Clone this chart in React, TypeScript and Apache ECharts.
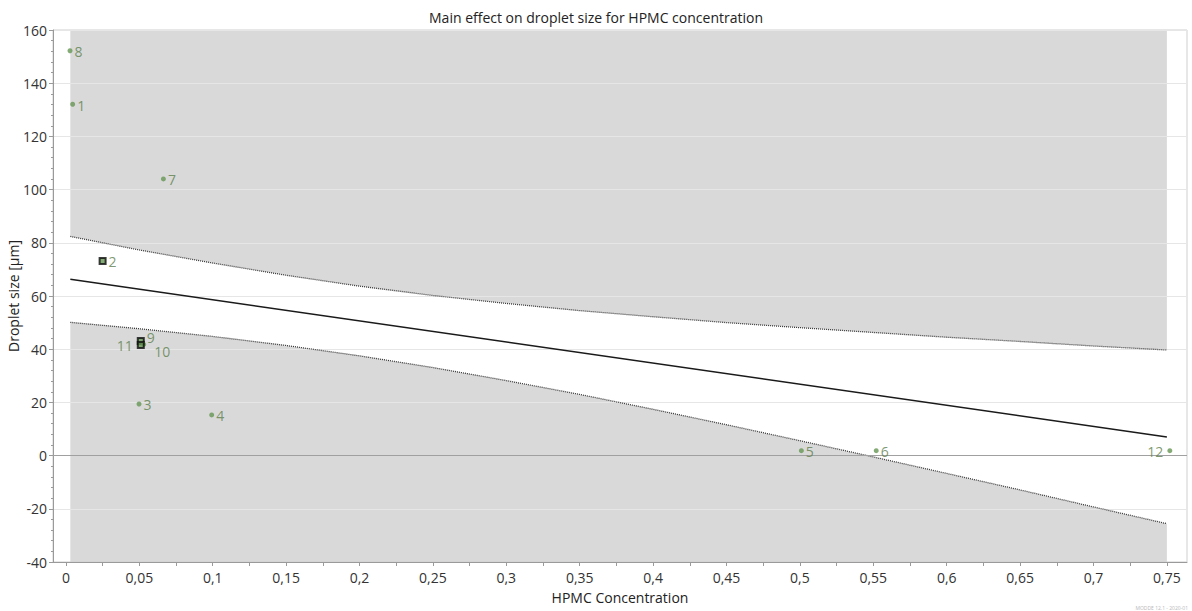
import React, { useEffect, useRef } from "react";
import * as echarts from "echarts";

// Observed runs: HPMC concentration vs. droplet size
const runLabels = ["1", "2", "3", "4", "5", "6", "7", "8", "9", "10", "11", "12"];
const hpmc = [0.0046, 0.025, 0.0498, 0.0993, 0.501, 0.552, 0.0664, 0.0028, 0.051, 0.053, 0.051, 0.752];
const dropletSize = [132.1, 73.2, 19.4, 15.3, 1.85, 1.85, 104, 152.2, 43.1, 41.8, 41.6, 1.85];
// Runs drawn with a square marker, and runs labelled on the left
const squareRuns = ["2", "9", "11"];
const leftLabelRuns = ["11", "12"];

// Fitted main effect line
const fitX = [0.003, 0.75];
const fitY = [66.3, 7.0];

// Confidence band around the fitted line
const bandX = [0.003, 0.05, 0.1, 0.15, 0.2, 0.25, 0.3, 0.35, 0.4, 0.45, 0.5, 0.55, 0.6, 0.65, 0.7, 0.75];
const upperLimit = [82.4, 77.3, 72.4, 67.8, 63.7, 60.2, 57.2, 54.5, 52.2, 50.0, 48.1, 46.3, 44.5, 42.9, 41.2, 39.7];
const lowerLimit = [50.1, 47.7, 44.8, 41.4, 37.5, 33.1, 28.2, 23.0, 17.4, 11.6, 5.6, -0.5, -6.7, -12.9, -19.3, -25.6];

// Axis ticks
const xLabelValues = [0, 0.05, 0.1, 0.15, 0.2, 0.25, 0.3, 0.35, 0.4, 0.45, 0.5, 0.55, 0.6, 0.65, 0.7, 0.75];
const xTickValues = [
  0, 0.025, 0.05, 0.075, 0.1, 0.125, 0.15, 0.175, 0.2, 0.225, 0.25, 0.275, 0.3, 0.325, 0.35, 0.375,
  0.4, 0.425, 0.45, 0.475, 0.5, 0.525, 0.55, 0.575, 0.6, 0.625, 0.65, 0.675, 0.7, 0.725, 0.75,
];

const FONT = "'Segoe UI', 'Open Sans', 'Noto Sans', sans-serif";
const POINT_GREEN = "#659653";
const LABEL_GREEN = "#5d7f4c";
const BAND_GREY = "#d9d9d9";

const zip = (xs: number[], ys: number[]) => xs.map((x, i) => [x, ys[i]]);

// Per-run label nudges so the clustered runs stay readable
const labelOffset = (name: string) => {
  if (name === "10") return [6, 7];
  if (name === "9") return [0, -3];
  return [0, 1];
};

export default function App() {
  const ref = useRef<HTMLDivElement>(null);

  useEffect(() => {
    if (!ref.current) return;
    const chart = echarts.init(ref.current, undefined, { renderer: "svg" });

    const points = runLabels.map((name, i) => {
      const square = squareRuns.includes(name);
      const left = leftLabelRuns.includes(name);
      return {
        name,
        value: [hpmc[i], dropletSize[i]],
        symbol: square ? "rect" : "circle",
        symbolSize: square ? 6 : 5,
        itemStyle: square
          ? { color: POINT_GREEN, borderColor: "#0d0d0d", borderWidth: 2 }
          : { color: POINT_GREEN },
        label: {
          position: left ? "left" : "right",
          distance: left ? 4 : 2,
          offset: labelOffset(name),
        },
      };
    });

    chart.setOption({
      animation: false,
      textStyle: { fontFamily: FONT },
      title: {
        text: "Main effect on droplet size for HPMC concentration",
        left: "center",
        top: 5,
        textStyle: { fontFamily: FONT, fontSize: 14, fontWeight: "normal", color: "#222" },
      },
      grid: {
        left: 53,
        right: 5,
        top: 30,
        bottom: 49,
        outerBoundsMode: "none",
        containLabel: false,
        show: true,
        borderColor: "#cfcfcf",
        borderWidth: 1,
        backgroundColor: "transparent",
      },
      xAxis: {
        type: "value",
        min: -0.0088,
        max: 0.7637,
        name: "HPMC Concentration",
        nameLocation: "middle",
        nameGap: 28,
        nameMoveOverlap: false,
        nameTextStyle: { fontFamily: FONT, fontSize: 14, color: "#222" },
        axisLine: { show: true, onZero: false, lineStyle: { color: "#9a9a9a" } },
        axisTick: { show: true, length: 4, lineStyle: { color: "#9a9a9a" }, customValues: xTickValues },
        axisLabel: {
          fontFamily: FONT,
          fontSize: 14,
          color: "#333",
          margin: 8,
          customValues: xLabelValues,
          formatter: (v: number) => String(Math.round(v * 1000) / 1000).replace(".", ","),
        },
        splitLine: { show: false },
      },
      yAxis: {
        type: "value",
        min: -40,
        max: 160,
        interval: 20,
        name: "Droplet size [µm]",
        nameLocation: "middle",
        nameGap: 33,
        nameMoveOverlap: false,
        nameTextStyle: { fontFamily: FONT, fontSize: 14, color: "#222" },
        axisLine: { show: true, onZero: false, lineStyle: { color: "#9a9a9a" } },
        axisTick: { show: true, length: 4, lineStyle: { color: "#9a9a9a" } },
        minorTick: { show: true, splitNumber: 5, length: 2, lineStyle: { color: "#9a9a9a" } },
        axisLabel: { fontFamily: FONT, fontSize: 14, color: "#333", margin: 6 },
        splitLine: { show: true, lineStyle: { color: "#e6e6e6", width: 1 } },
      },
      series: [
        // Shaded regions outside the confidence band (kept beneath the grid lines)
        {
          type: "line",
          z: -1,
          silent: true,
          symbol: "none",
          data: zip(bandX, upperLimit),
          lineStyle: { width: 0, opacity: 0 },
          areaStyle: { color: BAND_GREY, opacity: 1, origin: "end" },
        },
        {
          type: "line",
          z: -1,
          silent: true,
          symbol: "none",
          data: zip(bandX, lowerLimit),
          lineStyle: { width: 0, opacity: 0 },
          areaStyle: { color: BAND_GREY, opacity: 1, origin: "start" },
        },
        // Dotted band limits
        {
          type: "line",
          silent: true,
          symbol: "none",
          data: zip(bandX, upperLimit),
          lineStyle: { color: "#3a3a3a", width: 1.3, type: [1, 1] },
        },
        {
          type: "line",
          silent: true,
          symbol: "none",
          data: zip(bandX, lowerLimit),
          lineStyle: { color: "#3a3a3a", width: 1.3, type: [1, 1] },
        },
        // Fitted line, with the zero reference line
        {
          type: "line",
          silent: true,
          symbol: "none",
          data: zip(fitX, fitY),
          lineStyle: { color: "#1a1a1a", width: 1.5 },
          markLine: {
            silent: true,
            symbol: "none",
            label: { show: false },
            lineStyle: { color: "#a0a0a0", width: 1, type: "solid" },
            data: [{ yAxis: 0 }],
          },
        },
        // Observations
        {
          type: "scatter",
          z: 5,
          data: points,
          label: {
            show: true,
            formatter: "{b}",
            fontFamily: FONT,
            fontSize: 14,
            color: LABEL_GREEN,
          },
        },
      ],
      graphic: [
        {
          type: "text",
          right: 4,
          bottom: 1,
          style: { text: "MODDE 12.1 - 2020-01", fontSize: 5, fill: "#b8b8b8", fontFamily: FONT },
        },
      ],
    });

    return () => chart.dispose();
  }, []);

  return (
    <div
      ref={ref}
      style={{ position: "absolute", left: 0, top: 0, width: 1192, height: 611, background: "#fff" }}
    />
  );
}
